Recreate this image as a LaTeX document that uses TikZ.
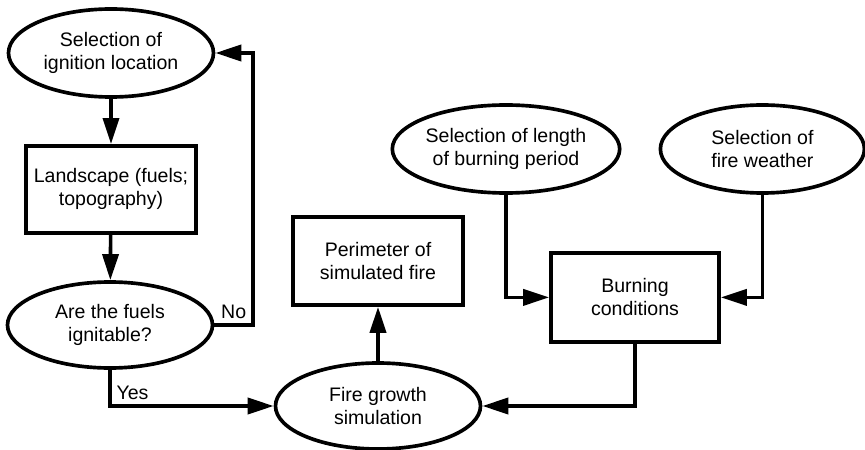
\documentclass[tikz,border=0pt]{standalone}
\usepackage{fontspec}
\setmainfont{Liberation Sans}
\usepackage{tikz}
\usetikzlibrary{arrows.meta,shapes.geometric}

\begin{document}
\begin{tikzpicture}[>={Triangle[length=6.5mm,width=4mm]},
  line width=2.6pt,
  every node/.style={font=\fontsize{13.9pt}{16.4pt}\selectfont, align=center},
  selell/.style={draw, ellipse, inner sep=0pt, minimum width=5.125cm, minimum height=2.2cm},
  procbox/.style={draw, rectangle, inner sep=0pt, minimum width=4.25cm, minimum height=2.2cm}]
\useasboundingbox (0cm, 0cm) rectangle (21.625cm, 11.225cm);
%left column
\node[selell]  (ignition)  at (2.775cm, 9.9cm)  {Selection of\\ignition location};
\node[procbox, minimum height=2.175cm] (landscape) at (2.775cm, 6.49cm) {Landscape (fuels;\\topography)};
\node[selell, minimum height=2.15cm] (fuels) at (2.75cm, 3.1cm) {Are the fuels\\ignitable?};
%middle
\node[selell, minimum height=2.15cm] (growth) at (9.45cm, 1.075cm) {Fire growth\\simulation};
\node[procbox] (perimeter) at (9.45cm, 4.7cm) {Perimeter of\\simulated fire};
%right
\node[selell, minimum width=5.15cm] (length)  at (12.65cm, 7.5cm) {Selection of length\\of burning period};
\node[selell, minimum width=5.1cm]  (weather) at (19.06cm, 7.5cm) {Selection of\\fire weather};
\node[procbox, minimum width=4.2cm, minimum height=2.225cm] (burning) at (15.875cm, 3.79cm) {Burning\\conditions};
%arrows
\draw[->] (ignition) -- (landscape);
\draw[->] (landscape) -- (fuels);
\coordinate (noback) at (6.325cm, 9.9cm);
\draw[->] (fuels.east) -| node[pos=0.25, above] {No} (noback) -- (ignition.east);
\draw[->] (fuels.south) |- node[pos=0.5, above right] {Yes} (growth.west);
\draw[->] (growth) -- (perimeter);
\draw[->] (length.south) |- (burning.west);
\draw[->] (weather.south) |- (burning.east);
\draw[->] (burning.south) |- (growth.east);
\end{tikzpicture}
\end{document}
